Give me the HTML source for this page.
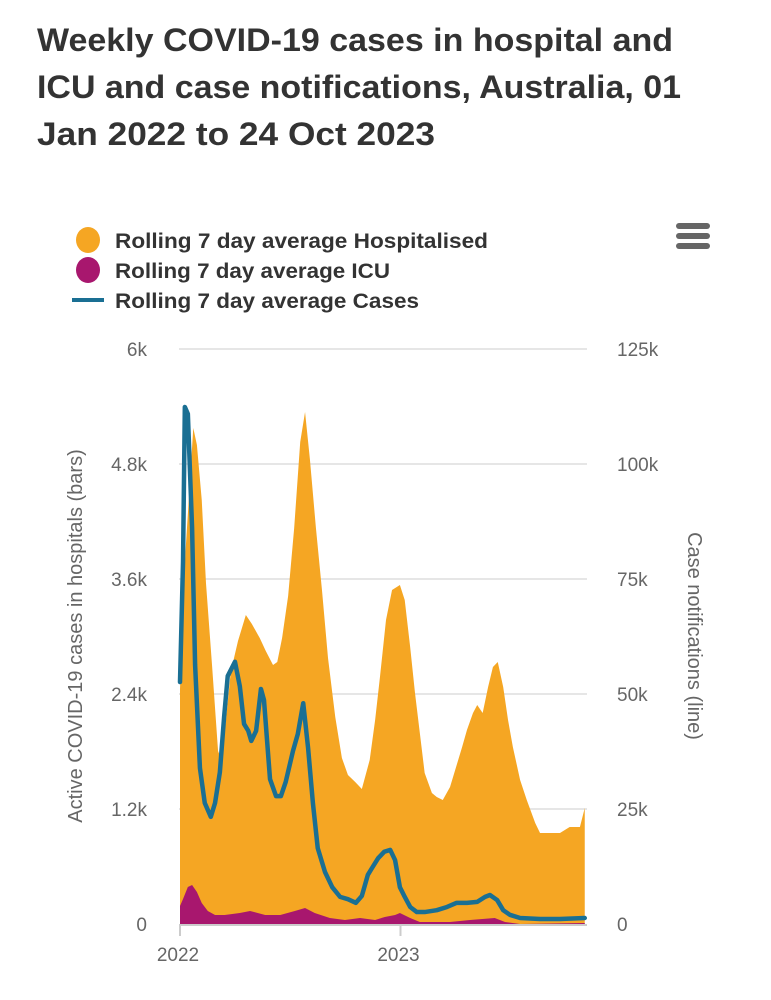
<!DOCTYPE html>
<html><head><meta charset="utf-8">
<style>
html,body{margin:0;padding:0;background:#fff;}
svg{display:block;font-family:"Liberation Sans",sans-serif;}
</style></head>
<body>
<svg id="chart" width="771" height="1000" viewBox="0 0 771 1000">
  <g fill="#333" font-weight="bold" font-size="32">
    <text x="37" y="51" textLength="636" lengthAdjust="spacingAndGlyphs">Weekly COVID-19 cases in hospital and</text>
    <text x="37" y="98" textLength="644" lengthAdjust="spacingAndGlyphs">ICU and case notifications, Australia, 01</text>
    <text x="37" y="145" textLength="398" lengthAdjust="spacingAndGlyphs">Jan 2022 to 24 Oct 2023</text>
  </g>
  <g font-size="21" font-weight="bold" fill="#333">
    <g>
      <ellipse cx="88" cy="240" rx="12" ry="13" fill="#f5a623"/>
      <text x="115" y="248" textLength="373" lengthAdjust="spacingAndGlyphs">Rolling 7 day average Hospitalised</text>
    </g>
    <g>
      <ellipse cx="88" cy="270" rx="12" ry="13" fill="#a8176e"/>
      <text x="115" y="278" textLength="275" lengthAdjust="spacingAndGlyphs">Rolling 7 day average ICU</text>
    </g>
    <g>
      <rect x="72" y="298" width="32" height="4" fill="#1a6f93"/>
      <text x="115" y="308" textLength="304" lengthAdjust="spacingAndGlyphs">Rolling 7 day average Cases</text>
    </g>
  </g>
  <g fill="#666">
    <rect x="676" y="223" width="34" height="6" rx="3"/>
    <rect x="676" y="233" width="34" height="6" rx="3"/>
    <rect x="676" y="243" width="34" height="6" rx="3"/>
  </g>
  <g id="grid"></g>
  <g id="plot"></g>
  <g id="axes" font-size="19" fill="#666"></g>
  <text transform="translate(82,636) rotate(-90)" text-anchor="middle" font-size="20" fill="#666">Active COVID-19 cases in hospitals (bars)</text>
  <text transform="translate(688,636) rotate(90)" text-anchor="middle" font-size="20" fill="#666">Case notifications (line)</text>
</svg>
<script>
const hospDays=[0,8,22,28,36,43,53,63,70,76,84,96,109,119,132,142,154,161,169,179,189,199,207,215,225,235,245,257,268,278,290,301,314,323,331,341,351,364,372,381,389,397,405,417,425,435,447,457,467,475,485,492,501,510,518,526,535,543,551,563,574,588,596,612,629,645,662,670];
const hospVals=[2452,3777,5176,4998,4424,3558,2703,1805,1690,2129,2630,2953,3224,3130,2984,2849,2703,2734,2984,3423,4132,5030,5343,4852,4132,3485,2776,2160,1732,1555,1482,1409,1711,2129,2577,3172,3485,3538,3381,2890,2410,1993,1576,1367,1325,1294,1430,1638,1847,2024,2202,2285,2202,2473,2682,2734,2473,2129,1847,1503,1294,1054,950,950,950,1012,1012,1210];
const icuDays=[0,5,13,20,28,36,46,58,74,99,116,141,166,190,207,223,248,273,298,323,339,356,364,381,397,447,480,521,538,563,670];
const icuVals=[188,261,386,407,334,219,136,94,94,115,136,94,94,136,167,115,63,42,63,42,73,94,115,63,21,21,42,63,21,0,10];
const caseDays=[0,5,8,13,20,25,33,41,51,58,66,73,79,91,99,106,113,118,126,134,139,149,159,167,175,187,195,204,212,220,228,240,252,265,278,291,301,311,318,328,338,348,356,364,372,381,392,405,425,442,458,475,492,505,513,525,535,546,563,596,629,670];
const caseVals=[52.6,78.7,112.4,110.9,86.1,56.3,33.9,26.3,23.3,26.3,33.0,45.0,53.9,57.0,51.7,43.5,42.0,39.8,42.0,51.1,48.7,31.5,27.8,27.8,30.9,37.6,41.3,48.0,38.3,26.3,16.5,11.3,8.0,5.9,5.4,4.6,6.1,10.7,12.2,14.3,15.7,16.1,13.9,8.0,5.9,3.7,2.6,2.6,3.0,3.7,4.6,4.6,4.8,5.9,6.3,5.2,3.0,2.0,1.3,1.1,1.1,1.3];
const leftTicks=[0,1200,2400,3600,4800,6000];
const leftLabels=["0","1.2k","2.4k","3.6k","4.8k","6k"];
const rightLabels=["0","25k","50k","75k","100k","125k"];
const yearTicks=[0,365];
const yearLabels=["2022","2023"];

const NS="http://www.w3.org/2000/svg";
const X0=180,PX_PER_DAY=220.5/365,Y0=924,Y1=349,LMAX=6000,RMAX=125;
const xs=d=>X0+d*PX_PER_DAY;
const yl=v=>Y0-(v/LMAX)*(Y0-Y1);
const yr=v=>Y0-(v/RMAX)*(Y0-Y1);
function mk(tag,attrs,parent){const e=document.createElementNS(NS,tag);for(const k in attrs)e.setAttribute(k,attrs[k]);parent.appendChild(e);return e;}
const grid=document.getElementById('grid'),plot=document.getElementById('plot'),axes=document.getElementById('axes');

leftTicks.forEach((t,i)=>{
  const y=yl(t);
  if(i>0){const g=mk('line',{x1:179,x2:587,y1:y,y2:y,stroke:'#e6e6e6','stroke-width':2},grid);
  
  }
  const tl=mk('text',{x:147,y:y+7,'text-anchor':'end'},axes);tl.textContent=leftLabels[i];
  
  
  const tr=mk('text',{x:617,y:y+7},axes);tr.textContent=rightLabels[i];
  
  
});

function stepArea(days,vals,fill,name){
  let d=`M${xs(days[0])},${Y0}`;
  for(let i=0;i<days.length;i++){d+=`L${xs(days[i])},${yl(vals[i])}`;}
  d+=`L${xs(days[days.length-1])},${Y0}Z`;
  const p=mk('path',{d,fill},plot);
  
  
}
stepArea(hospDays,hospVals,'#f5a623','hospitalised-area');
stepArea(icuDays,icuVals,'#a8176e','icu-area');

let ld='';
caseDays.forEach((d,i)=>{ld+=(i?'L':'M')+xs(d)+','+yr(caseVals[i]);});
const line=mk('path',{d:ld,fill:'none',stroke:'#1a6f93','stroke-width':4.5,'stroke-linejoin':'round','stroke-linecap':'round'},plot);



const base=mk('line',{x1:179,x2:587,y1:Y0+1,y2:Y0+1,stroke:'#ccc','stroke-width':2},axes);


yearTicks.forEach((d,i)=>{
  const x=xs(d);
  const tk=mk('line',{x1:x,x2:x,y1:Y0,y2:Y0+12,stroke:'#ccc','stroke-width':2},axes);
  
  
  const t=mk('text',{x:x-2,y:961,'text-anchor':'middle'},axes);t.textContent=yearLabels[i];
  
  
});
</script>
</body></html>
